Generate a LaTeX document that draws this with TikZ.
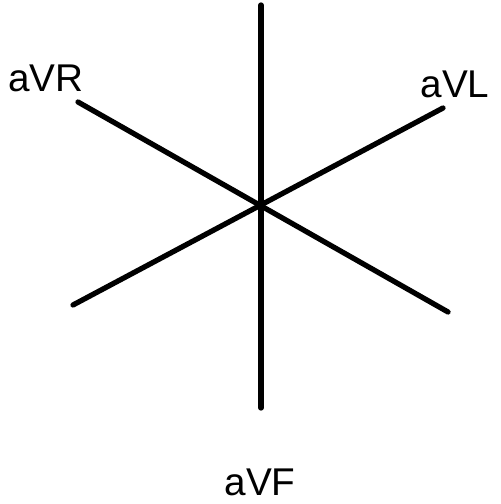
\documentclass[tikz,border=0pt]{standalone}
\usepackage{fontspec}
\setmainfont{Liberation Sans}
\begin{document}
\begin{tikzpicture}[x=0.01cm,y=-0.01cm,inner sep=0mm,font=\fontsize{11}{13}\selectfont]
\tikzset{lead/.style={line width=1.5pt,line cap=round}}
\useasboundingbox (0,0) rectangle (500,504);

\coordinate(vt) at (261,5);
\coordinate(vb) at (261,408);
\coordinate(rt) at (78,102);
\coordinate(rb) at (448,312);
\coordinate(lt) at (443,108);
\coordinate(lb) at (73,305);

\draw[lead] (vt) -- (vb);
\draw[lead] (rt) -- (rb);
\draw[lead] (lb) -- (lt);
%\fill (261,205) circle (0.03cm);

\node(avr) at (46,78) {aVR};
\node(avl) at (455,84) {aVL};
\node(avf) at (260,482) {aVF};

\end{tikzpicture}
\end{document}
